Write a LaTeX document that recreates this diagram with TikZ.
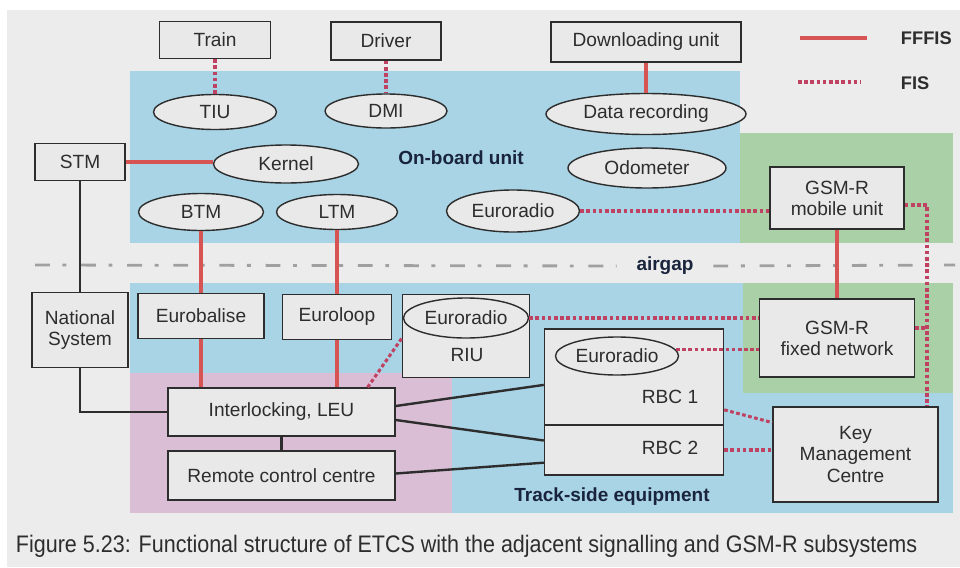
\documentclass[tikz,border=0pt]{standalone}
\usepackage{graphicx}
\usepackage{fontspec}
\setmainfont{Liberation Sans}
\usetikzlibrary{shapes.geometric, positioning}

\definecolor{paper}{RGB}{236,236,236}
\definecolor{onblue}{RGB}{168,212,229}
\definecolor{ongreen}{RGB}{170,208,168}
\definecolor{onpink}{RGB}{217,190,214}
\definecolor{ffred}{RGB}{214,84,84}
\definecolor{fisred}{RGB}{192,66,98}
\definecolor{boxgray}{RGB}{233,233,233}
\definecolor{inkgray}{RGB}{45,45,45}
\definecolor{gapgray}{RGB}{160,160,160}
\definecolor{navy}{RGB}{25,35,60}

\tikzset{
  wh/.style 2 args={minimum width=#1*0.025cm, minimum height=#2*0.025cm},
  unitbox/.style={draw=inkgray, fill=boxgray, line width=1pt, align=center, inner sep=0pt},
  unitoval/.style={ellipse, draw=inkgray, fill=boxgray, line width=1pt, inner sep=0pt},
  fffis/.style={draw=ffred, line width=2.4pt},
  fis/.style={draw=fisred, line width=2.2pt, dash pattern=on 2.6pt off 1.8pt},
  wire/.style={draw=inkgray, line width=1.7pt},
  zone/.style={font=\fontsize{13.5}{15}\selectfont\bfseries, text=navy},
}

\begin{document}
\begin{tikzpicture}[x=0.025cm, y=-0.025cm,
    every node/.style={text=inkgray, font=\fontsize{13.6}{15}\selectfont}]
\useasboundingbox (0,0) rectangle (960,567);
\fill[paper] (0,0) rectangle (960,567);
\fill[white] (0,0) rectangle (960,10);
\fill[white] (0,0) rectangle (7,567);

\fill[onblue] (130,71) rectangle (740,243);
\fill[ongreen] (740,133) rectangle (953,243);
\fill[onblue] (130,283) rectangle (953,513);
\fill[ongreen] (743,283) rectangle (953,393);
\fill[onpink] (130,373) rectangle (452,513);

\node[unitbox, wh={111}{37}] (train) at (215,40) {Train};
\node[unitbox, wh={110}{38}] (driver) at (386,41) {Driver};
\node[unitbox, wh={190}{40}] (download) at (646,42) {Downloading unit};
\node[unitoval, wh={123}{35}] (tiu) at (215,112) {TIU};
\node[unitoval, wh={122}{34}] (dmi) at (386,111) {DMI};
\node[unitoval, wh={200}{41}] (datarec) at (646,114) {Data recording};
\node[unitbox, wh={90}{37}] (stm) at (80,162) {STM};
\node[unitoval, wh={145}{38}] (kernel) at (286,164) {Kernel};
\node[zone] (onboard) at (461,158) {On-board unit};
\node[unitoval, wh={158}{40}] (odometer) at (647,168) {Odometer};
\node[unitoval, wh={125}{37}] (btm) at (201,212) {BTM};
\node[unitoval, wh={121}{35}] (ltm) at (337,212) {LTM};
\node[unitoval, wh={133}{42}] (radioobu) at (513,211) {Euroradio};
\node[unitbox, wh={134}{62}] (gsmmobile) at (837,198) {GSM-R\\mobile unit};

\coordinate (ffa) at (800,38);
\coordinate (ffb) at (867,38);
\coordinate (fisa) at (798,82);
\coordinate (fisb) at (860,82);
\node[font=\fontsize{13}{15}\selectfont\bfseries, anchor=west] (fffislabel) at (896,38) {FFFIS};
\node[font=\fontsize{13}{15}\selectfont\bfseries, anchor=west] (fislabel) at (896,83) {FIS};
\draw[fffis] (ffa) -- (ffb);
\draw[fis] (fisa) -- (fisb);

\coordinate (gapl) at (35,265);
\coordinate (gapr) at (955,265);
\node[zone, inner xsep=14pt] (airgap) at (665,266) {airgap};
\draw[gapgray, line width=2pt, dash pattern=on 10.5pt off 9pt on 2.8pt off 10.5pt] (gapl) -- (airgap.west);
\draw[gapgray, line width=2pt, dash pattern=on 10.5pt off 9pt on 2.8pt off 10.5pt] (airgap.east) -- (gapr);

\node[unitbox, wh={96}{75}] (natsys) at (80,330) {National\\System};
\node[unitbox, wh={126}{45}] (balise) at (201,316) {Eurobalise};
\node[unitbox, wh={109}{45}] (loop) at (337,317) {Euroloop};
\node[unitbox, wh={127}{83}] (riu) at (466,336) {};
\node (riulabel) at (467,355) {RIU};
\node[unitoval, wh={125}{40}] (radiorbu) at (466,318) {Euroradio};
\node[unitbox, wh={155}{78}] (gsmfixed) at (837,338) {GSM-R\\fixed network};
\node[unitbox, wh={179}{96}] (rbc1) at (634,377) {};
\node[unitbox, wh={179}{50}] (rbc2) at (634,450) {};
\node (rbc1label) at (670,397) {RBC 1};
\node (rbc2label) at (670,448) {RBC 2};
\node[unitoval, wh={123}{38}] (radiorbc) at (617,356) {Euroradio};
\node[unitbox, wh={227}{48}] (ileu) at (281.5,412) {Interlocking, LEU};
\node[unitbox, wh={227}{49}] (rcc) at (281.5,475.5) {Remote control centre};
\node[unitbox, wh={165}{95}] (kmc) at (855.5,454.5) {Key\\Management\\Centre};
\node[zone] (trackside) at (612,497) {Track-side equipment};

\node[anchor=west, font=\fontsize{17}{19}\selectfont] (caption) at (11,546)
  {\scalebox{0.9}[1]{Figure 5.23: Functional structure of ETCS with the adjacent signalling and GSM-R subsystems}};

\draw[fis] (train) -- (tiu);
\draw[fis] (driver) -- (dmi);
\draw[fffis] (download) -- (datarec);
\draw[fffis] (stm.east) -- (stm.east -| kernel.west);
\draw[fffis] (btm) -- (balise);
\draw[fffis] (ltm) -- (loop);
\draw[fffis] (balise) -- (balise |- ileu.north);
\draw[fffis] (loop) -- (loop |- ileu.north);
\draw[fffis] (gsmmobile) -- (gsmfixed);
\draw[wire] (stm) -- (natsys);
\draw[wire] (natsys) |- (ileu);
\draw[wire] (ileu) -- (rcc);
\draw[wire] (ileu.3) -- (rbc1.185);
\draw[wire] (ileu.-4.5) -- (rbc2.174);
\draw[wire] (rcc.1) -- (rbc2.188);
\draw[fis] (ileu.16.6) -- (riu.182);
\draw[fis] (radioobu) -- (radioobu -| gsmmobile.west);
\draw[fis] (radiorbu) -- (radiorbu -| gsmfixed.west);
\draw[fis] (radiorbc.6) -- (radiorbc.6 -| gsmfixed.west);
\coordinate (fisbend) at (927,205);
\coordinate (fisstub) at (927,328);
\draw[fis] (gsmmobile.east |- fisbend) -- (fisbend) -- (fisbend |- kmc.north);
\draw[fis] (gsmfixed.east |- fisstub) -- (fisstub);
\draw[fis] (rbc1.-20) -- (kmc.159);
\draw[fis] (rbc2) -- (rbc2 -| kmc.west);
\end{tikzpicture}
\end{document}
